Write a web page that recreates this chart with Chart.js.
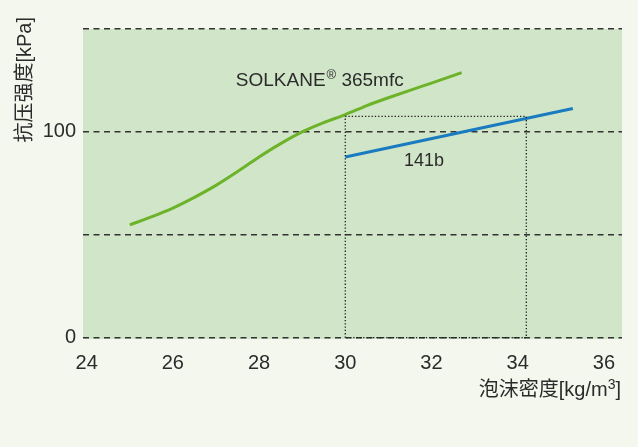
<!DOCTYPE html>
<html>
<head>
<meta charset="utf-8">
<script src="https://cdn.jsdelivr.net/npm/chart.js@4"></script>
<style>
  html, body { margin: 0; padding: 0; background: #f4f7ee; }
  #wrap { width: 638px; height: 447px; }
</style>
</head>
<body>
<div id="wrap"><canvas id="chart" width="638" height="447"></canvas></div>
<script>
// values
const solkaneX = [25, 25.5, 26, 26.5, 27, 27.5, 28, 28.5, 29, 29.5, 30, 30.5, 31, 31.5, 32, 32.7];
const solkaneY = [54.8, 58.7, 63, 68.2, 74, 80.7, 87.8, 94.3, 100, 104.5, 108.4, 112.8, 116.6, 120.2, 123.7, 128.8];
const r141bX = [30, 35.28];
const r141bY = [87.8, 111.4];
// dotted guide box
const guideX = [30, 30, 34.2, 34.2, 30];
const guideY = [0, 107.5, 107.5, 0, 0];
const xTicks = [24, 26, 28, 30, 32, 34, 36];
const yTicks = [0, 50, 100, 150];
const yLabelled = [0, 100];

const FONT = '"Liberation Sans", "Noto Sans CJK SC", sans-serif';
const TEXT = '#2b2b2b';

function toPoints(xs, ys) {
    return xs.map((x, i) => ({ x: x, y: ys[i] }));
}

// plot background + extra texts
const decor = {
    id: 'decor',
    beforeDraw(chart) {
        const { ctx, chartArea } = chart;
        ctx.save();
        ctx.fillStyle = '#f4f7ee';
        ctx.fillRect(0, 0, chart.width, chart.height);
        ctx.fillStyle = '#d1e6c8';
        ctx.fillRect(chartArea.left, chartArea.top, chartArea.right - chartArea.left, chartArea.bottom - chartArea.top);
        ctx.restore();
    },
    afterDraw(chart) {
        const { ctx } = chart;
        const xs = chart.scales.x, ys = chart.scales.y;
        ctx.save();
        ctx.fillStyle = TEXT;
        ctx.textBaseline = 'alphabetic';
        ctx.textAlign = 'left';

        // series labels
        let px = xs.getPixelForValue(27.46), py = ys.getPixelForValue(122.3);
        ctx.font = '19px ' + FONT;
        ctx.fillText('SOLKANE', px, py);
        px += ctx.measureText('SOLKANE').width;
        ctx.font = '13px ' + FONT;
        ctx.fillText('®', px + 1, py - 7);
        px += ctx.measureText('®').width + 1;
        ctx.font = '19px ' + FONT;
        ctx.fillText(' 365mfc', px, py);

        ctx.font = '18px ' + FONT;
        ctx.fillText('141b', xs.getPixelForValue(31.36), ys.getPixelForValue(83.4));

        // x axis title, right aligned
        const a = '泡沫密度[kg/m', b = ']';
        ctx.font = '20px ' + FONT;
        const wa = ctx.measureText(a).width, wb = ctx.measureText(b).width;
        ctx.font = '14px ' + FONT;
        const w3 = ctx.measureText('3').width;
        let x0 = 621 - wa - w3 - wb;
        ctx.font = '20px ' + FONT;
        ctx.fillText(a, x0, 396);
        ctx.font = '14px ' + FONT;
        ctx.fillText('3', x0 + wa, 389);
        ctx.font = '20px ' + FONT;
        ctx.fillText(b, x0 + wa + w3, 396);

        // y axis title, rotated
        ctx.translate(31, 17);
        ctx.rotate(-Math.PI / 2);
        ctx.textAlign = 'right';
        ctx.font = '20px ' + FONT;
        ctx.fillText('抗压强度[kPa]', 0, 0);
        ctx.restore();
    }
};

const ctx = document.getElementById('chart').getContext('2d');
new Chart(ctx, {
    type: 'line',
    data: {
        datasets: [
            {
                data: toPoints(guideX, guideY),
                borderColor: '#1e1e1e',
                borderWidth: 1.3,
                borderDash: [1.3, 2],
                pointRadius: 0,
                tension: 0
            },
            {
                data: toPoints(solkaneX, solkaneY),
                borderColor: '#6cb32a',
                borderWidth: 3,
                pointRadius: 0,
                cubicInterpolationMode: 'monotone'
            },
            {
                data: toPoints(r141bX, r141bY),
                borderColor: '#1a7bc0',
                borderWidth: 3,
                pointRadius: 0,
                tension: 0
            }
        ]
    },
    options: {
        responsive: false,
        animation: false,
        devicePixelRatio: 1,
        layout: { padding: { left: 0, right: 16, top: 29, bottom: 0 } },
        plugins: { legend: { display: false }, tooltip: { enabled: false } },
        scales: {
            x: {
                type: 'linear',
                min: 23.915,
                max: 36.42,
                afterBuildTicks: (scale) => { scale.ticks = xTicks.map(v => ({ value: v })); },
                afterFit: (scale) => { scale.height = 108; },
                grid: { display: false, drawTicks: false },
                border: { display: false },
                ticks: {
                    padding: 12,
                    color: TEXT,
                    font: { family: FONT, size: 20 },
                    maxRotation: 0
                }
            },
            y: {
                type: 'linear',
                min: -0.63,
                max: 150,
                afterBuildTicks: (scale) => { scale.ticks = yTicks.map(v => ({ value: v })); },
                afterFit: (scale) => { scale.width = 83; },
                grid: {
                    color: '#333333',
                    lineWidth: 1.5,
                    drawTicks: false
                },
                border: { display: false, dash: [6, 4.5] },
                ticks: {
                    padding: 7,
                    color: TEXT,
                    font: { family: FONT, size: 20 },
                    callback: (v) => yLabelled.includes(v) ? String(v) : ''
                }
            }
        }
    },
    plugins: [decor]
});
</script>
</body>
</html>
